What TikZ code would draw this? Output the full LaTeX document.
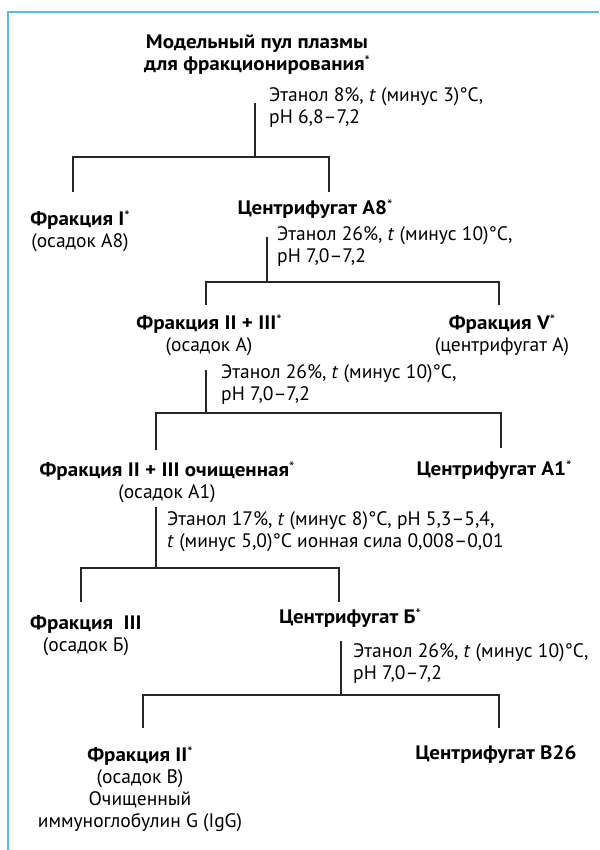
\documentclass[tikz,border=0pt]{standalone}
\usepackage{fontspec}
\setmainfont{PT Sans}[BoldFeatures={FakeStretch=1.08}]
\definecolor{frameblue}{RGB}{77,192,240}
\newcommand\sn{\raisebox{0.22em}{\normalfont\fontsize{15}{15}\selectfont*}}
\tikzset{
  head/.style={font=\bfseries, align=center, inner sep=0pt},
  frac/.style={align=center, inner sep=0pt},
  note/.style={align=left, anchor=west, inner sep=0pt},
  link/.style={line width=1.4pt, draw=black!85},
}
\begin{document}
\fontsize{19.5}{22}\selectfont
\begin{tikzpicture}[x=1pt,y=-1pt]
  \useasboundingbox (0,0) rectangle (599,850);
  \draw[frameblue, line width=2pt] (599,12) -- (8,12) -- (8,850);

  % step 1
  \node[head] (pool) at (257,55) {Модельный пул плазмы\\для фракционирования\sn};
  \node[note] (c1) at (269,108) {Этанол 8\%, \textit{t} (минус 3)°C,\\pH 6,8--7,2};
  \node[frac] (fI) at (80,231) {\textbf{Фракция I}\sn\\(осадок А8)};
  \node[head] (cA8) at (315,209) {Центрифугат А8\sn};
  \coordinate (s1) at (255,103);
  \coordinate (j1) at (255,157);
  \coordinate (l1) at (73,192);
  \coordinate (r1) at (329,192);
  \draw[link] (s1) -- (j1);
  \draw[link] (l1) |- (r1 |- j1) -- (r1);

  % step 2
  \node[note] (c2) at (277,246) {Этанол 26\%, \textit{t} (минус 10)°C,\\pH 7,0--7,2};
  \node[frac] (fII) at (209,335) {\textbf{Фракция II + III}\sn\\(осадок А)};
  \node[frac] (fV) at (502,335) {\textbf{Фракция V}\sn\\(центрифугат А)};
  \coordinate (s2) at (267,237);
  \coordinate (j2) at (267,282);
  \coordinate (l2) at (206,305);
  \coordinate (r2) at (499,305);
  \draw[link] (s2) -- (j2);
  \draw[link] (l2) |- (r2 |- j2) -- (r2);

  % step 3
  \node[note] (c3) at (221,384) {Этанол 26\%, \textit{t} (минус 10)°C,\\pH 7,0--7,2};
  \node[frac] (fIIc) at (167,482) {\textbf{Фракция II + III очищенная}\sn\\(осадок А1)};
  \node[head] (cA1) at (494,470) {Центрифугат А1\sn};
  \coordinate (s3) at (206,370);
  \coordinate (j3) at (206,413);
  \coordinate (l3) at (156,450);
  \coordinate (r3) at (501,448);
  \draw[link] (s3) -- (j3);
  \draw[link] (l3) |- (r3 |- j3) -- (r3);

  % step 4
  \node[note] (c4) at (167,532) {Этанол 17\%, \textit{t} (минус 8)°C, pH 5,3--5,4,\\\textit{t} (минус 5,0)°C ионная сила 0,008--0,01};
  \node[frac] (fIII) at (86,636) {\textbf{Фракция~~III}\\(осадок Б)};
  \node[head] (cB) at (350,618) {Центрифугат Б\sn};
  \coordinate (s4) at (156,507);
  \coordinate (j4) at (156,568);
  \coordinate (l4) at (81,602);
  \coordinate (r4) at (339,602);
  \draw[link] (s4) -- (j4);
  \draw[link] (l4) |- (r4 |- j4) -- (r4);

  % step 5
  \node[note] (c5) at (353,663) {Этанол 26\%, \textit{t} (минус 10)°C,\\pH 7,0--7,2};
  \node[frac] (fII2) at (140,789) {\textbf{Фракция II}\sn\\(осадок В)\\Очищенный\\иммуноглобулин G (IgG)};
  \node[head] (cB26) at (496,755) {Центрифугат В26};
  \coordinate (s5) at (341,641);
  \coordinate (j5) at (341,695);
  \coordinate (l5) at (143,728);
  \coordinate (r5) at (499,728);
  \draw[link] (s5) -- (j5);
  \draw[link] (l5) |- (r5 |- j5) -- (r5);
\end{tikzpicture}
\end{document}
